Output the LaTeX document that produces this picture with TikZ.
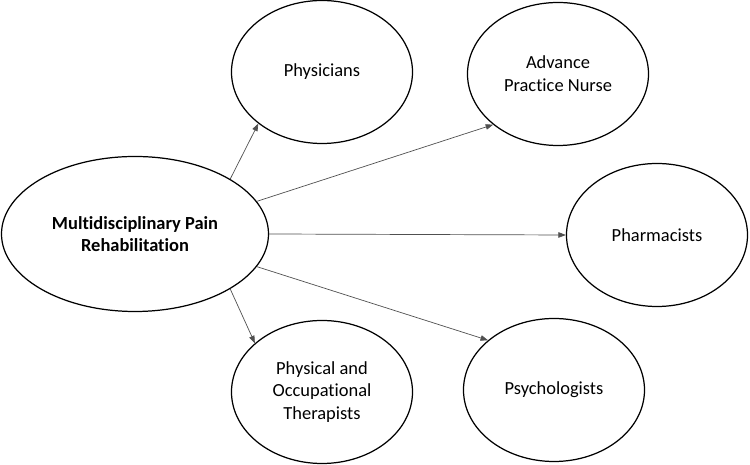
\documentclass[tikz,border=0pt]{standalone}
\usepackage{fontspec}
\setmainfont{Carlito}[Ligatures=NoCommon]
\usepackage{xcolor}
\usetikzlibrary{arrows.meta,positioning,shapes.geometric}
\definecolor{rolegray}{RGB}{80,80,80}

\begin{document}
\begin{tikzpicture}[
    hub/.style={ellipse,draw=black,line width=0.7pt,inner sep=0pt,
      minimum width=5.34cm,minimum height=3.1cm,align=center,
      font=\fontsize{10.5}{12.9}\selectfont\bfseries},
    role/.style={ellipse,draw=black,line width=0.7pt,inner sep=0pt,
      minimum width=3.62cm,minimum height=2.86cm,align=center,
      font=\fontsize{10.5}{12.9}\selectfont},
    arrow/.style={-{Triangle[length=1.5mm,width=1.1mm]},line width=0.4pt,draw=rolegray}
  ]
    \useasboundingbox (0,0) rectangle (15,9.3);
    \node[hub] (mpr) at (2.70,4.62) {Multidisciplinary Pain\\Rehabilitation};
    \node[role] (phys) at (6.44,7.86) {Physicians};
    \node[role] (apn) at (11.16,7.82) {Advance\\Practice Nurse};
    \node[role] (pharm) at (13.14,4.60) {Pharmacists};
    \node[role] (pot) at (6.44,1.46) {Physical and\\Occupational\\Therapists};
    \node[role] (psych) at (11.08,1.50) {Psychologists};

    \draw[arrow] (mpr.30) -- (phys.219);
    \draw[arrow] (mpr.15) -- (apn.218);
    \draw[arrow] (mpr.0) -- (pharm.180);
    \draw[arrow] (mpr.-15) -- (psych.143);
    \draw[arrow] (mpr.-30) -- (pot.144);
  \end{tikzpicture}
\end{document}
